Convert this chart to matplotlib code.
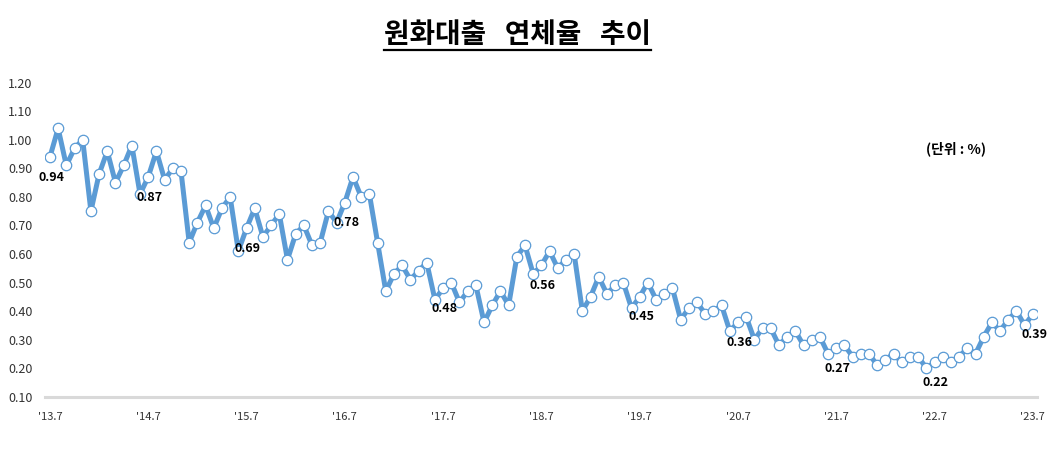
import matplotlib.pyplot as plt
import numpy as np

plt.rcParams['font.family'] = ['Noto Sans CJK KR', 'DejaVu Sans']

# monthly won-loan delinquency rate, '13.7 ~ '23.7 (%)
rates = [
    0.94, 1.04, 0.91, 0.97, 1.00, 0.75, 0.88, 0.96, 0.85, 0.91, 0.98, 0.81,
    0.87, 0.96, 0.86, 0.90, 0.89, 0.64, 0.71, 0.77, 0.69, 0.76, 0.80, 0.61,
    0.69, 0.76, 0.66, 0.70, 0.74, 0.58, 0.67, 0.70, 0.63, 0.64, 0.75, 0.71,
    0.78, 0.87, 0.80, 0.81, 0.64, 0.47, 0.53, 0.56, 0.51, 0.54, 0.57, 0.44,
    0.48, 0.50, 0.43, 0.47, 0.49, 0.36, 0.42, 0.47, 0.42, 0.59, 0.63, 0.53,
    0.56, 0.61, 0.55, 0.58, 0.60, 0.40, 0.45, 0.52, 0.46, 0.49, 0.50, 0.41,
    0.45, 0.50, 0.44, 0.46, 0.48, 0.37, 0.41, 0.43, 0.39, 0.40, 0.42, 0.33,
    0.36, 0.38, 0.30, 0.34, 0.34, 0.28, 0.31, 0.33, 0.28, 0.30, 0.31, 0.25,
    0.27, 0.28, 0.24, 0.25, 0.25, 0.21, 0.23, 0.25, 0.22, 0.24, 0.24, 0.20,
    0.22, 0.24, 0.22, 0.24, 0.27, 0.25, 0.31, 0.36, 0.33, 0.37, 0.40, 0.35,
    0.39,
]
tick_labels = ["'13.7", "'14.7", "'15.7", "'16.7", "'17.7", "'18.7",
               "'19.7", "'20.7", "'21.7", "'22.7", "'23.7"]
yticks = [0.10, 0.20, 0.30, 0.40, 0.50, 0.60, 0.70, 0.80, 0.90, 1.00, 1.10, 1.20]

x = np.arange(len(rates))
blue = '#5B9BD5'

fig = plt.figure(figsize=(10.52, 4.49), dpi=100)
ax = fig.add_axes([0.0428, 0.1165, 0.9429, 0.6993])

ax.plot(x, rates, color=blue, linewidth=3.6, marker='o', markersize=7.5,
        markerfacecolor='white', markeredgecolor=blue, markeredgewidth=0.9,
        solid_joinstyle='round')

# July values are labelled
for i in range(0, len(rates), 12):
    ax.annotate(f'{rates[i]:.2f}', (x[i], rates[i]), xytext=(1, -14.5),
                textcoords='offset points', ha='center', va='center',
                fontsize=9, fontweight='bold', color='black')

ax.set_xlim(-0.6, 120.5)
ax.set_ylim(0.10, 1.20)
ax.set_yticks(yticks)
ax.set_yticklabels([f'{v:.2f}' for v in yticks], fontsize=9, color='#333333')
ax.set_xticks(x[::12])
ax.set_xticklabels(tick_labels, fontsize=8, color='#333333')
ax.tick_params(axis='y', length=0, pad=9)
ax.tick_params(axis='x', length=0, pad=11)
for s in ['top', 'right', 'left']:
    ax.spines[s].set_visible(False)
ax.spines['bottom'].set_color('#D9D9D9')
ax.spines['bottom'].set_linewidth(2.2)

title = fig.text(0.4915, 0.921, '원화대출   연체율   추이', ha='center', va='center',
                 fontsize=20, fontweight='bold')
fig.text(0.909, 0.668, '(단위 : %)', ha='center', va='center', fontsize=10,
         fontweight='bold')

# underline under the title
fig.canvas.draw()
bb = title.get_window_extent().transformed(fig.transFigure.inverted())
fig.add_artist(plt.Line2D([bb.x0, bb.x1], [bb.y0 - 0.002, bb.y0 - 0.002],
                          transform=fig.transFigure, color='black', linewidth=1.6))

fig.savefig('out.png', dpi=100)
